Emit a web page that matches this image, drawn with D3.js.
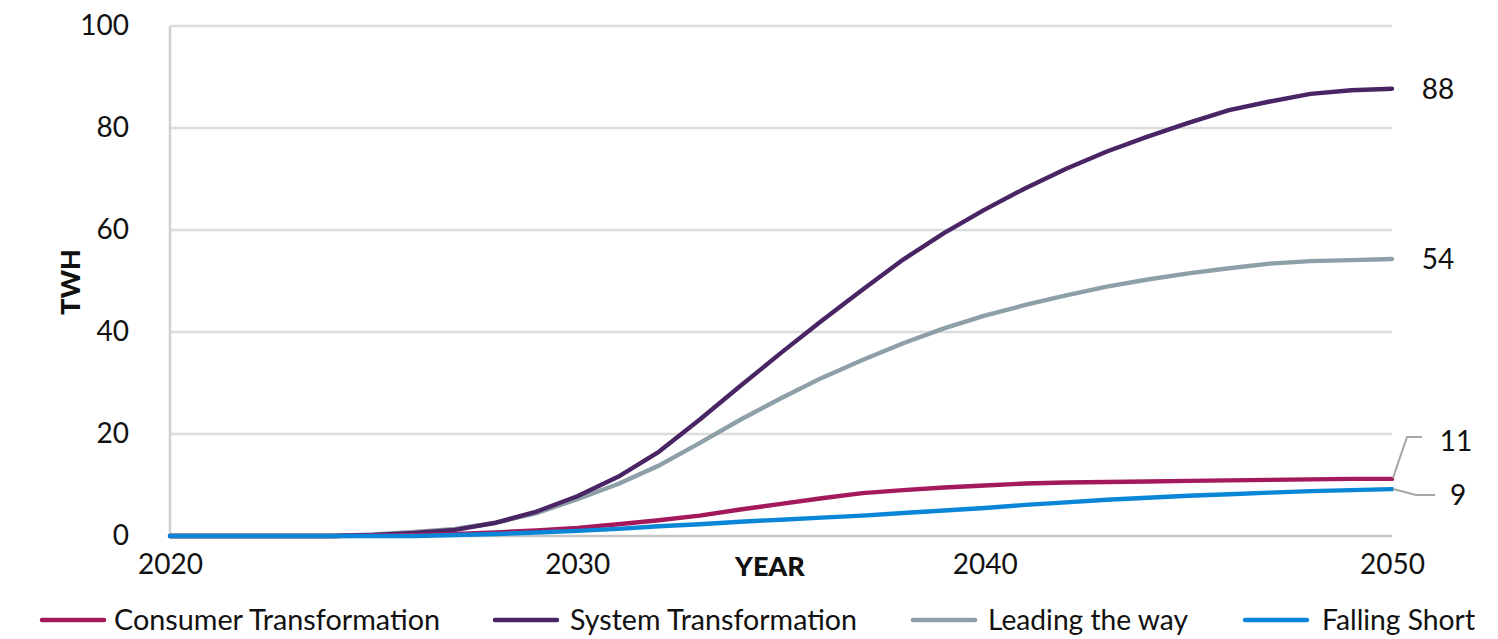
<!DOCTYPE html>
<html><head><meta charset="utf-8">
<script src="https://cdn.jsdelivr.net/npm/d3@7"></script>
<style>
html,body{margin:0;padding:0;background:#fff;}
svg{display:block;font-family:Lato, "Open Sans", sans-serif;}
</style></head>
<body>
<svg id="c" width="1498" height="639"></svg>
<script>
const years = d3.range(2020, 2051);
const consumerTransformation = [0,0,0,0,0,0.1,0.2,0.4,0.7,1.1,1.6,2.3,3.1,4.0,5.2,6.3,7.4,8.4,9.0,9.5,9.9,10.3,10.5,10.6,10.7,10.8,10.9,11.0,11.1,11.2,11.2];
const systemTransformation = [0,0,0,0,0,0.2,0.6,1.2,2.6,4.8,7.8,11.6,16.5,22.8,29.4,35.9,42.2,48.3,54.2,59.4,64.0,68.2,72.0,75.4,78.3,81.0,83.5,85.2,86.7,87.4,87.7];
const leadingTheWay = [0,0,0,0,0,0.3,0.8,1.4,2.6,4.5,7.2,10.2,13.8,18.2,22.8,27.0,31.0,34.5,37.8,40.7,43.2,45.3,47.2,48.9,50.3,51.5,52.5,53.4,53.9,54.1,54.3];
const fallingShort = [0,0,0,0,0,0,0,0.2,0.4,0.7,1.0,1.4,1.9,2.3,2.8,3.2,3.6,4.0,4.5,5.0,5.5,6.1,6.6,7.1,7.5,7.9,8.2,8.5,8.8,9.0,9.2];
const seriesNames = ["Consumer Transformation","System Transformation","Leading the way","Falling Short"];
const seriesColors = ["#a3195b","#4a2565","#8da0a8","#0a86d8"];
const endLabels = ["11","88","54","9"];
const yTicks = [0,20,40,60,80,100];
const xTicks = [2020,2030,2040,2050];
const yTitle = "TWH";
const xTitle = "YEAR";

const seriesValues = [consumerTransformation, systemTransformation, leadingTheWay, fallingShort];
const svg = d3.select("#c");
const x = d3.scaleLinear().domain([2020,2050]).range([170,1392]);
const y = d3.scaleLinear().domain([0,100]).range([536,26]);

// gridlines
svg.append("g").selectAll("line").data(yTicks).join("line")
  .attr("x1", x(2020)).attr("x2", x(2050))
  .attr("y1", d=>y(d)).attr("y2", d=>y(d))
  .attr("stroke", d=> d===0 ? "#c4c4c4" : "#dcdcdc").attr("stroke-width", 2.5);
// vertical axis line
svg.append("line").attr("x1", x(2020)).attr("x2", x(2020)).attr("y1", y(100)).attr("y2", y(0))
  .attr("stroke","#d0d0d0").attr("stroke-width",2.5);

// y axis labels
const yAxis = d3.axisLeft(y).tickValues(yTicks).tickSize(0).tickPadding(0);
const gy = svg.append("g").attr("transform","translate(129,0)").call(yAxis);
gy.select(".domain").remove();
gy.selectAll("text").attr("font-size",28).attr("fill","#111").attr("font-family","Lato");

// x axis labels
const xAxis = d3.axisBottom(x).tickValues(xTicks).tickFormat(d3.format("d")).tickSize(0).tickPadding(0);
const gx = svg.append("g").attr("transform","translate(0,554)").call(xAxis);
gx.select(".domain").remove();
gx.selectAll("text").attr("font-size",28).attr("fill","#111").attr("font-family","Lato");

svg.append("text").attr("x",770).attr("y",576).attr("text-anchor","middle")
  .attr("font-size",27).attr("font-weight",900).attr("fill","#111").text(xTitle);
svg.append("text").attr("transform","translate(80,282) rotate(-90)").attr("text-anchor","middle")
  .attr("font-size",27).attr("font-weight",900).attr("fill","#111").text(yTitle);

// lines
const line = d3.line().x((d,i)=>x(years[i])).y(d=>y(d)).curve(d3.curveLinear);
const drawOrder = [2,1,0,3];
drawOrder.forEach(k=>{
  svg.append("path").attr("d", line(seriesValues[k])).attr("fill","none")
    .attr("stroke", seriesColors[k]).attr("stroke-width",4.4).attr("stroke-linecap","round").attr("stroke-linejoin","round");
});

// end labels
const lastX = x(2050);
[1,2].forEach(k=>{
  const v = seriesValues[k][seriesValues[k].length-1];
  svg.append("text").attr("x", lastX+46).attr("y", y(v)+10).attr("text-anchor","middle")
    .attr("font-size",28).attr("fill","#111").text(endLabels[k]);
});
{
  const v = consumerTransformation[consumerTransformation.length-1];
  const ly = y(v) - 42;
  svg.append("polyline").attr("points", `${lastX+1},${y(v)-1} ${lastX+15},${ly} ${lastX+30},${ly}`)
    .attr("fill","none").attr("stroke","#a6a6a6").attr("stroke-width",2);
  svg.append("text").attr("x", lastX+64).attr("y", ly+14).attr("text-anchor","middle")
    .attr("font-size",28).attr("fill","#111").text(endLabels[0]);
}
{
  const v = fallingShort[fallingShort.length-1];
  const ly = y(v) + 6;
  svg.append("polyline").attr("points", `${lastX+1},${y(v)} ${lastX+24},${ly} ${lastX+43},${ly}`)
    .attr("fill","none").attr("stroke","#a6a6a6").attr("stroke-width",2);
  svg.append("text").attr("x", lastX+66).attr("y", ly+10).attr("text-anchor","middle")
    .attr("font-size",28).attr("fill","#111").text(endLabels[3]);
}

// legend
const legendLineX = [42, 495, 913, 1245];
const legendTextX = [114, 570, 988, 1322];
const legendTextW = [326, 287, 200, 153];
const lg = svg.append("g");
seriesNames.forEach((n,i)=>{
  lg.append("line").attr("x1",legendLineX[i]).attr("x2",legendLineX[i]+62).attr("y1",620).attr("y2",620)
    .attr("stroke",seriesColors[i]).attr("stroke-width",4.5).attr("stroke-linecap","round");
  lg.append("text").attr("x",legendTextX[i]).attr("y",630).attr("font-size",28).attr("fill","#111")
    .attr("textLength", legendTextW[i]).attr("lengthAdjust","spacingAndGlyphs").text(n);
});
</script>
</body></html>
